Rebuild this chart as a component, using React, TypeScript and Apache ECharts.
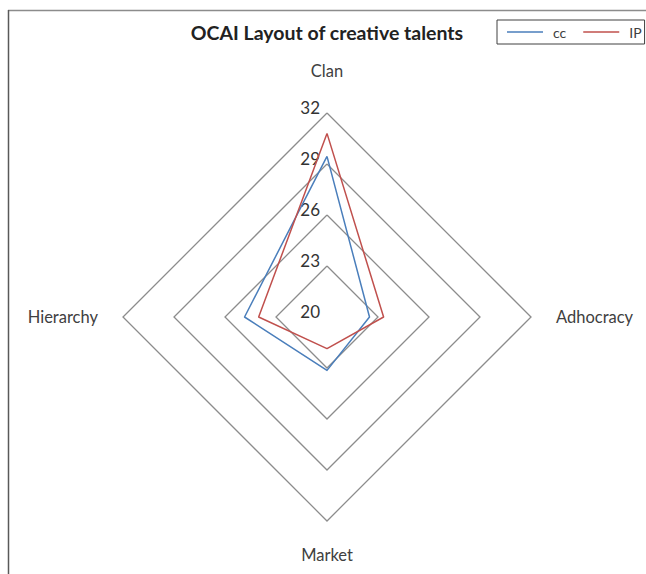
import React, { useEffect, useRef } from "react";
import * as echarts from "echarts";

const indicatorNames = ["Clan", "Hierarchy", "Market", "Adhocracy"];
const seriesNames = ["cc", "IP"];
const ccValues = [29.45, 24.85, 23.14, 22.5];
const ipValues = [30.8, 24.02, 21.86, 23.33];
const scaleMin = 20;
const scaleMax = 32;

export default function App() {
  const ref = useRef<HTMLDivElement>(null);
  useEffect(() => {
    document.body.style.margin = "0";
    const chart = echarts.init(ref.current!, null, { renderer: "svg" });
    const font = "Lato, 'Open Sans', sans-serif";
    const gaps: Record<string, number> = { Clan: 34, Hierarchy: 25, Market: 25, Adhocracy: 25 };
    chart.setOption({
      animation: false,
      backgroundColor: "#ffffff",
      title: {
        text: "OCAI Layout of creative talents",
        left: 322,
        textAlign: "center",
        top: 17,
        textStyle: { fontFamily: font, fontSize: 19.5, fontWeight: "bold", color: "#222222" },
      },
      legend: {
        data: seriesNames,
        left: 497,
        top: 20,
        padding: [5, 3, 5, 10],
        borderColor: "#404040",
        borderWidth: 1,
        itemGap: 17,
        itemWidth: 36,
        itemHeight: 1.5,
        icon: "rect",
        textStyle: { fontFamily: font, fontSize: 14, color: "#404040", padding: [0, 0, 0, 5] },
      },
      color: ["#4a7ebb", "#c0504d"],
      graphic: [
        { type: "line", shape: { x1: 8, y1: 10.5, x2: 646, y2: 10.5 }, style: { stroke: "#8c8c8c", lineWidth: 1.5 } },
        { type: "line", shape: { x1: 8.5, y1: 10, x2: 8.5, y2: 574 }, style: { stroke: "#595959", lineWidth: 1.5 } },
      ],
      radar: {
        center: [327, 317],
        radius: 204,
        shape: "polygon",
        splitNumber: 4,
        startAngle: 90,
        nameGap: 25,
        axisName: { fontFamily: font, fontSize: 16.5, color: "#404040" },
        axisLine: { show: false },
        axisTick: { show: false },
        axisLabel: { show: false },
        splitLine: { lineStyle: { color: "#8c8c8c", width: 1.3 } },
        splitArea: { show: false },
        indicator: indicatorNames.map((n, i) => ({
          name: n,
          min: scaleMin,
          max: scaleMax,
          nameGap: gaps[n],
          axisLabel:
            i === 0
              ? { show: true, fontFamily: font, fontSize: 17, color: "#333333", margin: 7, verticalAlign: "bottom", lineHeight: 12 }
              : { show: false },
        })),
      },
      series: [
        {
          type: "radar",
          symbol: "none",
          data: [
            { name: seriesNames[0], value: ccValues, lineStyle: { width: 1.5, color: "#4a7ebb" }, itemStyle: { color: "#4a7ebb" } },
            { name: seriesNames[1], value: ipValues, lineStyle: { width: 1.5, color: "#c0504d" }, itemStyle: { color: "#c0504d" } },
          ],
        },
      ],
    });
    return () => chart.dispose();
  }, []);
  return <div ref={ref} style={{ width: 646, height: 574 }} />;
}
